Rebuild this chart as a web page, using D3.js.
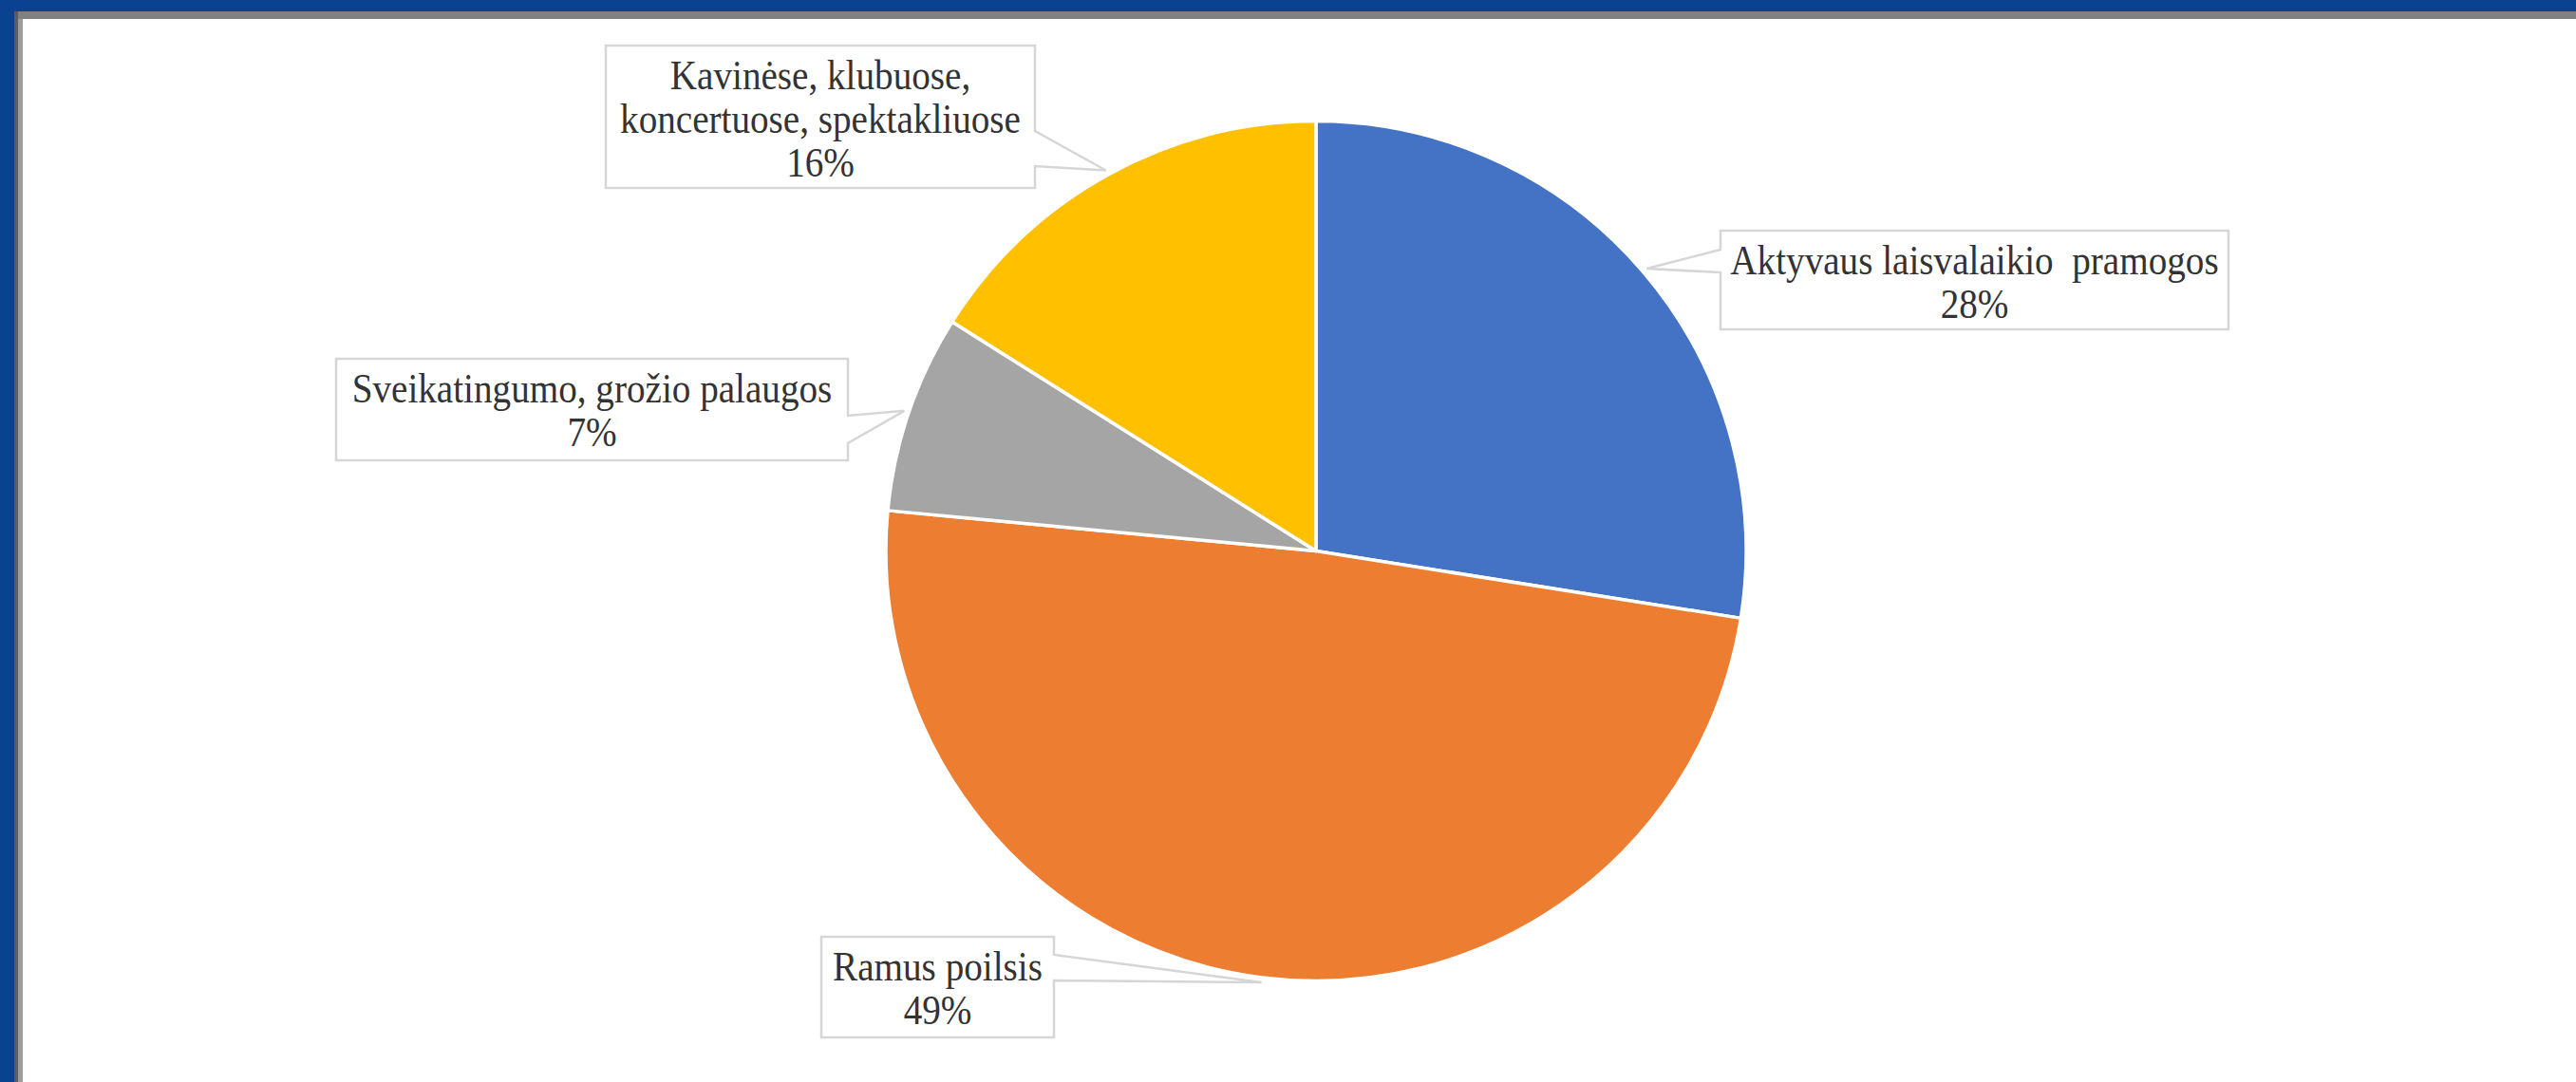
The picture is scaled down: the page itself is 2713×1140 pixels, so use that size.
<!DOCTYPE html>
<html>
<head>
<meta charset="utf-8">
<script src="https://cdn.jsdelivr.net/npm/d3@7"></script>
<style>
  html, body { margin: 0; padding: 0; background: #ffffff; overflow: hidden; }
  svg { display: block; }
  .lbl { font-family: "Liberation Serif", "Tinos", "Times New Roman", "DejaVu Serif", serif; font-size: 44px; fill: #333333; white-space: pre; }
</style>
</head>
<body>
<svg id="chart" width="2713" height="1140"></svg>
<script>
// ---- data ----
const categories = [
  "Aktyvaus laisvalaikio  pramogos",
  "Ramus poilsis",
  "Sveikatingumo, grožio palaugos",
  "Kavinėse, klubuose,\nkoncertuose, spektakliuose"
];
const values = [27.5, 49.0, 7.45, 16.05];
const colors = ["#4472C4", "#ED7D31", "#A5A5A5", "#FFC000"];

// ---- layout (label callout boxes, px) ----
const callouts = [
  { x0: 1812, x1: 2347, y0: 243, y1: 347, side: "left",  ya: 263,  yb: 287 },
  { x0: 865,  x1: 1110, y0: 987, y1: 1093, side: "right", ya: 1006, yb: 1033 },
  { x0: 354,  x1: 893,  y0: 378, y1: 485, side: "right", ya: 438,  yb: 467 },
  { x0: 638,  x1: 1090, y0: 48,  y1: 198, side: "right", ya: 138,  yb: 175 }
];

const W = 2713, H = 1140;
const cx = 1386, cy = 580.5, R = 453;

const svg = d3.select("#chart");

// frame
svg.append("rect").attr("x", 0).attr("y", 0).attr("width", W).attr("height", 12).attr("fill", "#0B4191");
svg.append("rect").attr("x", 15).attr("y", 12).attr("width", W - 15).attr("height", 8).attr("fill", "#808080");
svg.append("rect").attr("x", 0).attr("y", 0).attr("width", 15).attr("height", H).attr("fill", "#0B4191");
svg.append("rect").attr("x", 15).attr("y", 12).attr("width", 4).attr("height", H - 12).attr("fill", "#5c5c5c");
svg.append("rect").attr("x", 19).attr("y", 20).attr("width", 5).attr("height", H - 20).attr("fill", "#9c9c9c");

// pie
const pie = d3.pie().sort(null).value(d => d).startAngle(0).endAngle(2 * Math.PI);
const arcs = pie(values);
const arc = d3.arc().innerRadius(0).outerRadius(R);
const tipArc = d3.arc().innerRadius(R + 5).outerRadius(R + 5);

const g = svg.append("g").attr("transform", `translate(${cx},${cy})`);
g.selectAll("path.slice")
  .data(arcs)
  .join("path")
  .attr("class", "slice")
  .attr("d", arc)
  .attr("fill", (d, i) => colors[i])
  .attr("stroke", "#ffffff")
  .attr("stroke-width", 3.5)
  .attr("stroke-linejoin", "round");

// callouts
const lab = svg.append("g");
arcs.forEach((d, i) => {
  const c = callouts[i];
  const t = tipArc.centroid(d);
  const tx = cx + t[0], ty = cy + t[1];
  let p;
  if (c.side === "right") {
    p = `M${c.x0},${c.y0}H${c.x1}V${c.ya}L${tx},${ty}L${c.x1},${c.yb}V${c.y1}H${c.x0}Z`;
  } else {
    p = `M${c.x0},${c.y0}H${c.x1}V${c.y1}H${c.x0}V${c.yb}L${tx},${ty}L${c.x0},${c.ya}Z`;
  }
  lab.append("path")
    .attr("d", p)
    .attr("fill", "#ffffff")
    .attr("stroke", "#d6d6d6")
    .attr("stroke-width", 2.5)
    .attr("stroke-linejoin", "miter");

  const lines = categories[i].split("\n").concat([Math.round(values[i]) + "%"]);
  const mx = (c.x0 + c.x1) / 2;
  lines.forEach((ln, k) => {
    lab.append("text")
      .attr("class", "lbl")
      .attr("transform", `translate(${mx},${c.y0 + 46 + k * 46}) scale(0.89,1)`)
      .attr("text-anchor", "middle")
      .text(ln);
  });
});
</script>
</body>
</html>
